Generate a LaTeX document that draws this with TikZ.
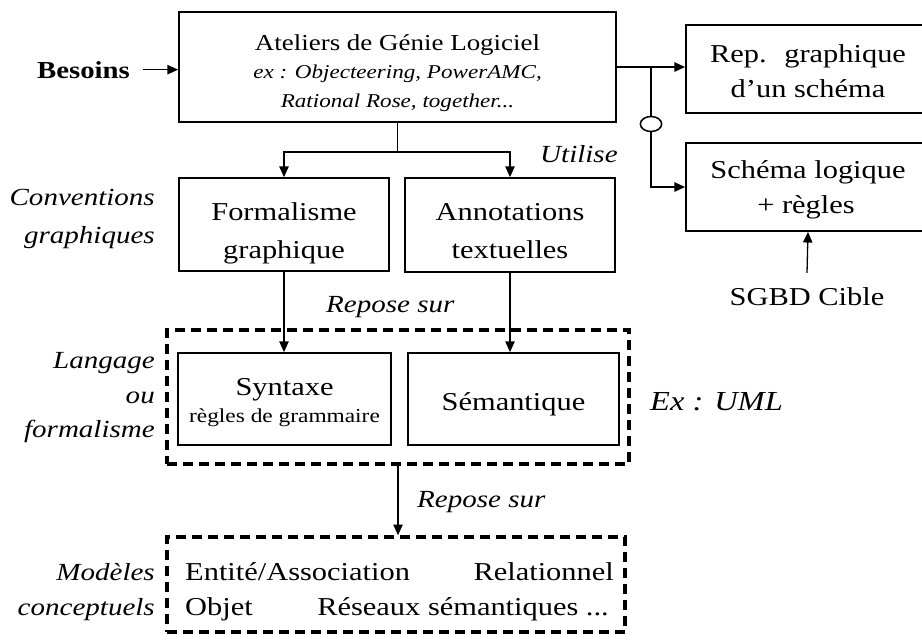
\documentclass[tikz,border=0pt]{standalone}
\usepackage{fontspec}
\setmainfont[FakeStretch=1.18]{Liberation Serif}
\usetikzlibrary{arrows.meta,shapes.geometric}

\begin{document}
\begin{tikzpicture}[x=0.03cm, y=-0.03cm,
  cadre/.style={draw, line width=1.5pt, inner sep=0pt},
  cadretir/.style={draw, line width=3pt, dash pattern=on 0.3cm off 0.18cm, inner sep=0pt},
  texte/.style={anchor=base, inner sep=0pt, font=\fontsize{22}{26}\selectfont},
  etiq/.style={anchor=base east, inner sep=0pt, font=\fontsize{21}{25}\selectfont\itshape},
  fleche/.style={line width=1.1pt, -{Triangle[length=0.32cm, width=0.28cm]}}]

  \useasboundingbox (0,0) rectangle (922,641);

  % Ateliers de genie logiciel
  \node[cadre, minimum width=13.11cm, minimum height=3.3cm] (atelier) at (397.5,67) {};
  \node[texte, font=\fontsize{19.5}{24}\selectfont] (atelierT) at (397.5,50) {Ateliers de Génie Logiciel};
  \node[texte, font=\fontsize{16.7}{20}\selectfont\itshape] (atelierA) at (397.5,78) {ex : Objecteering, PowerAMC,};
  \node[texte, font=\fontsize{16.7}{20}\selectfont\itshape] (atelierB) at (397.5,107) {Rational Rose, together...};

  \node[anchor=base west, inner sep=0pt, font=\fontsize{20.8}{25}\selectfont\bfseries] (besoins) at (37,78) {Besoins};
  \draw[fleche] ([xshift=0.39cm]besoins.east) -- (atelier.west |- besoins.east);

  % Sorties
  \node[cadre, minimum width=7.32cm, minimum height=2.64cm] (rep) at (808,69) {};
  \node[texte] (repA) at (808,62) {Rep.~ graphique};
  \node[texte] (repB) at (808,97) {d’un schéma};
  \node[cadre, minimum width=7.32cm, minimum height=2.64cm] (schema) at (808,187) {};
  \node[texte] (schemaA) at (808,178) {Schéma logique};
  \node[texte] (schemaB) at (806,213) {+ règles};
  \node[texte] (sgbd) at (807,305) {SGBD Cible};

  \coordinate (branche) at (651,67);
  \node[draw, ellipse, line width=1.3pt, fill=white, inner sep=0pt, minimum width=0.64cm, minimum height=0.45cm] (cercle) at (651,124) {};
  \draw[fleche] (atelier.east) -- (atelier.east -| rep.west);
  \draw[line width=1.1pt] (branche) -- (cercle.north);
  \draw[fleche] (cercle.south) |- (schema.west);
  \draw[fleche] ([yshift=0.42cm]sgbd.north) -- (schema.south);

  % Conventions graphiques
  \node[cadre, minimum width=6.3cm, minimum height=2.79cm] (formalisme) at (284,224.5) {};
  \node[texte] (formA) at (284,220) {Formalisme};
  \node[texte] (formB) at (284,258) {graphique};
  \node[cadre, minimum width=6.3cm, minimum height=2.82cm] (annotations) at (510,225) {};
  \node[texte] (annA) at (510,220) {Annotations};
  \node[texte] (annB) at (510,258) {textuelles};

  \coordinate (jonction) at (397.5,152);
  \draw[line width=1.1pt] (atelier.south) -- (jonction);
  \draw[fleche] (jonction) -| (formalisme.north);
  \draw[fleche] (jonction) -| (annotations.north);
  \node[etiq, anchor=base west] (utilise) at (540,162) {Utilise};

  \node[etiq] (conv1) at (155,205) {Conventions};
  \node[etiq] (conv2) at (155,243) {graphiques};

  % Langage ou formalisme
  \node[cadretir, minimum width=13.86cm, minimum height=4.02cm] (langage) at (398,397) {};
  \node[cadre, minimum width=6.39cm, minimum height=2.76cm] (syntaxe) at (284.5,399) {};
  \node[texte] (syntA) at (284.5,395) {Syntaxe};
  \node[texte, font=\fontsize{16.9}{20}\selectfont] (syntB) at (284.5,422) {règles de grammaire};
  \node[cadre, minimum width=6.33cm, minimum height=2.76cm] (semantique) at (513.5,399) {};
  \node[texte] (semA) at (513.5,410) {Sémantique};

  \draw[fleche] (formalisme.south) -- (formalisme.south |- syntaxe.north);
  \draw[fleche] (annotations.south) -- (annotations.south |- semantique.north);
  \node[etiq, anchor=base west] (repose1) at (326,312) {Repose sur};
  \node[etiq, anchor=base west, font=\fontsize{23.5}{28}\selectfont\itshape] (uml) at (650,410) {Ex : UML};

  \node[etiq] (lang1) at (155,368) {Langage};
  \node[etiq] (lang2) at (155,403) {ou};
  \node[etiq] (lang3) at (155,437) {formalisme};

  % Modeles conceptuels
  \node[cadretir, minimum width=13.74cm, minimum height=2.85cm] (modeles) at (396,584.5) {};
  \draw[fleche] (langage.south) -- (langage.south |- modeles.north);
  \node[etiq, anchor=base west] (repose2) at (417,507) {Repose sur};

  \node[texte, anchor=base west] (ea) at (185,580) {Entité/Association};
  \node[texte, anchor=base east] (rel) at (614,580) {Relationnel};
  \node[texte, anchor=base west] (objet) at (185,615) {Objet};
  \node[texte, anchor=base east] (reseaux) at (609,615) {Réseaux sémantiques ...};

  \node[etiq] (mod1) at (155,580) {Modèles};
  \node[etiq] (mod2) at (155,615) {conceptuels};
\end{tikzpicture}
\end{document}
